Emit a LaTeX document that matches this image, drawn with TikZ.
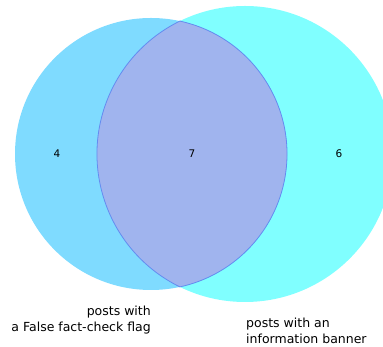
\documentclass[tikz,border=0pt]{standalone}
\usepackage{fontspec}
\setmainfont{DejaVu Sans}
\definecolor{leftfill}{RGB}{127,219,255}
\definecolor{rightfill}{RGB}{128,255,255}
\definecolor{lensfill}{RGB}{160,180,238}
\definecolor{lensedge}{RGB}{100,140,240}
\begin{document}
\begin{tikzpicture}[x=1pt, y=1pt,
    count/.style={font=\fontsize{10.5}{12}\selectfont},
    setlabel/.style={font=\fontsize{12.5}{16}\selectfont, inner sep=0pt}]
    \useasboundingbox (0,0) rectangle (383,347);
    \clip (0,0) rectangle (383,347);
    \coordinate (L) at (151,193);
    \coordinate (R) at (245,193);
    \fill[rightfill] (R) circle (148);
    \fill[leftfill] (L) circle (136);
    % intersection of the two sets
    \filldraw[fill=lensfill, draw=lensedge, line width=0.8pt]
        ([shift={(77.74:136)}]L) arc (77.74:-77.74:136)
        arc (243.9:116.1:148) -- cycle;
    \node[count] (n10) at (57,193) {4};
    \node[count] (n11) at (192,193) {7};
    \node[count] (n01) at (339,193) {6};
    \node[setlabel, anchor=north east, align=right] (setA) at (151,41)
        {posts with\\a False fact-check flag};
    \node[setlabel, anchor=north west, align=left] (setB) at (246,29)
        {posts with an\\information banner};
\end{tikzpicture}
\end{document}
